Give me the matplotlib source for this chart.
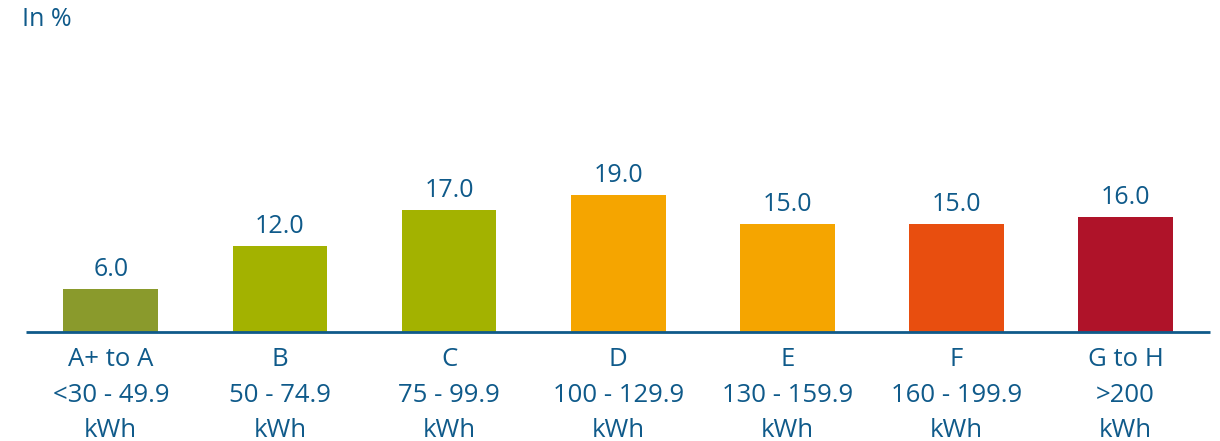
import matplotlib.pyplot as plt

plt.rcParams['font.family'] = ['Open Sans', 'DejaVu Sans']

classes = ['A+ to A', 'B', 'C', 'D', 'E', 'F', 'G to H']
ranges = ['<30 - 49.9', '50 - 74.9', '75 - 99.9', '100 - 129.9',
          '130 - 159.9', '160 - 199.9', '>200']
unit = 'kWh'
shares = [6.0, 12.0, 17.0, 19.0, 15.0, 15.0, 16.0]
colors = ['#8a9a2c', '#a3b200', '#a3b200', '#f5a500', '#f5a500', '#e84e0f', '#af1329']

blue = '#0f5a8a'

fig = plt.figure(figsize=(12.2, 4.41), dpi=100)
ax = fig.add_axes([0.0215, 0.2472, 0.9705, 0.4081])

x = range(len(shares))
bars = ax.bar(x, shares, width=0.56, color=colors)
for b, v in zip(bars, shares):
    ax.annotate(f'{v:.1f}', (b.get_x() + b.get_width() / 2, v),
                xytext=(0, 5), textcoords='offset points',
                ha='center', va='bottom', fontsize=18, color=blue)

ax.set_xlim(-0.5, 6.5)
ax.set_ylim(0, 25)
ax.set_xticks(list(x))
ax.set_xticklabels([f'{c}\n{r}\n{unit}' for c, r in zip(classes, ranges)],
                   fontsize=18.5, color=blue, linespacing=1.55)
ax.tick_params(axis='x', length=0, pad=11)
ax.set_yticks([])
for s in ['top', 'right', 'left']:
    ax.spines[s].set_visible(False)
ax.spines['bottom'].set_color(blue)
ax.spines['bottom'].set_linewidth(2)
ax.spines['bottom'].set_capstyle('butt')

fig.text(22 / 1220, 1 - 20 / 441, 'In %', fontsize=18, color=blue,
         ha='left', va='center')

fig.savefig('out.png', dpi=100)
